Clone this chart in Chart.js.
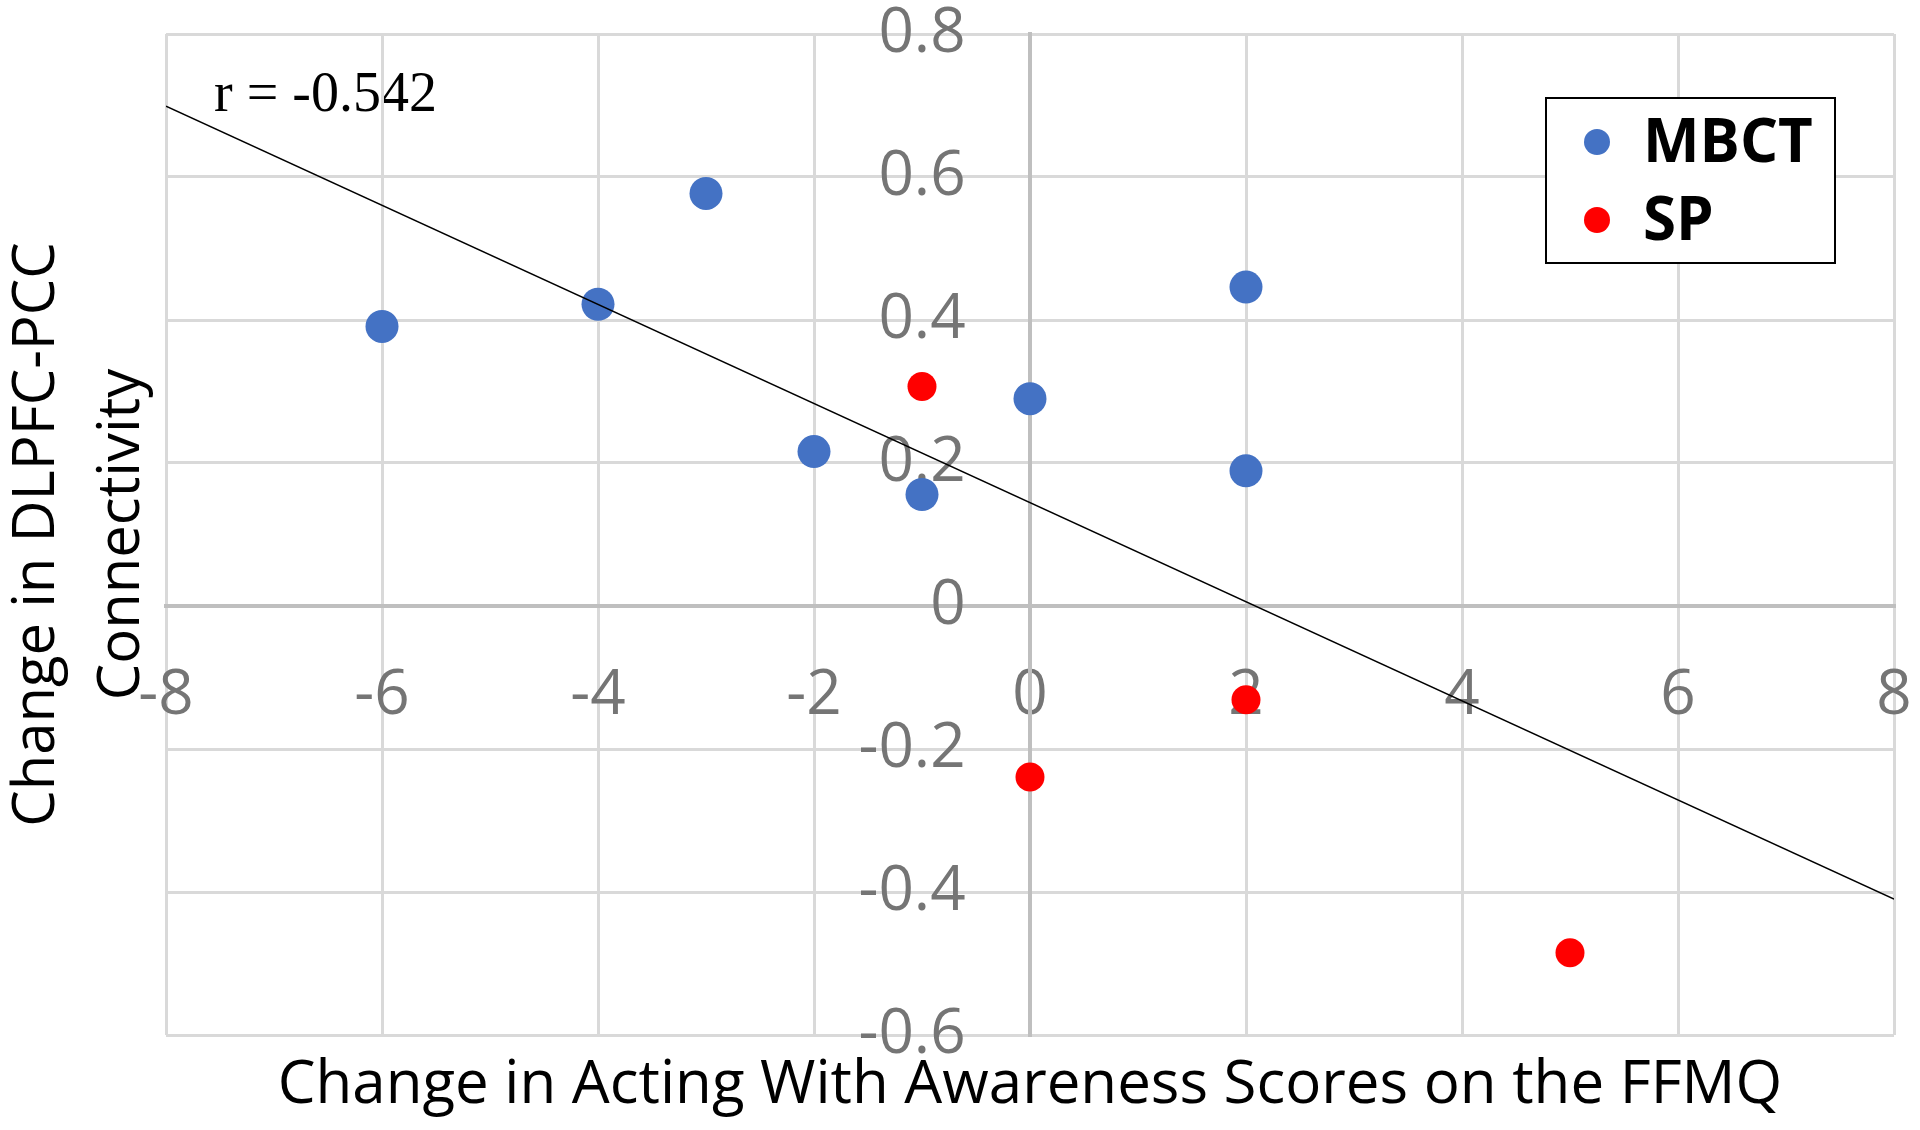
<!DOCTYPE html>
<html><head><meta charset="utf-8">
<script src="https://cdn.jsdelivr.net/npm/chart.js@4/dist/chart.umd.min.js"></script>
<style>html,body{margin:0;padding:0;background:#fff;}#wrap{width:1920px;height:1130px;}</style>
</head><body><div id="wrap"><canvas id="c" width="1920" height="1130"></canvas></div>
<script>
const mbctX = [-6, -4, -3, -2, -1, 0, 2, 2];
const mbctY = [0.391, 0.422, 0.577, 0.216, 0.156, 0.290, 0.446, 0.189];
const spX = [-1, 2, 0, 5];
const spY = [0.307, -0.131, -0.239, -0.485];
const trendX = [-8, 8];
const trendY = [0.699, -0.410];
const seriesNames = ['MBCT', 'SP'];
const xTicks = [-8, -6, -4, -2, 0, 2, 4, 6, 8];
const yTicks = [-0.6, -0.4, -0.2, 0, 0.2, 0.4, 0.6, 0.8];
const xTitle = 'Change in Acting With Awareness Scores on the FFMQ';
const yTitle = ['Change in DLPFC-PCC', 'Connectivity'];
const rLabel = 'r = -0.542';

const toPts = (xs, ys) => xs.map((x, i) => ({x: x, y: ys[i]}));
const fmt = v => { const r = Math.round(v * 10) / 10; return r === 0 ? '0' : String(r); };

const annot = {
  id: 'annot',
  beforeDraw(chart) {
    const ctx = chart.ctx;
    ctx.save();
    ctx.fillStyle = '#000';
    ctx.font = '56px "Liberation Serif"';
    ctx.textAlign = 'left';
    ctx.textBaseline = 'alphabetic';
    ctx.fillText(rLabel, 214, 111);
    ctx.restore();
  },
  afterDraw(chart) {
    const ctx = chart.ctx, a = chart.chartArea;
    ctx.save();
    ctx.fillStyle = '#000';
    // x title
    ctx.font = '60px "Open Sans"';
    ctx.textAlign = 'center';
    ctx.textBaseline = 'middle';
    ctx.fillText(xTitle, (a.left + a.right) / 2, 1086);
    // y title
    ctx.save();
    ctx.translate(0, (a.top + a.bottom) / 2);
    ctx.rotate(-Math.PI / 2);
    ctx.font = '58px "Open Sans"';
    ctx.fillText(yTitle[0], 0, 37);
    ctx.fillText(yTitle[1], 0, 122);
    ctx.restore();
    // legend
    ctx.fillStyle = '#fff';
    ctx.fillRect(1546, 98, 289, 165);
    ctx.strokeStyle = '#000';
    ctx.lineWidth = 2;
    ctx.strokeRect(1546, 98, 289, 165);
    const ds = chart.data.datasets.filter(d => seriesNames.includes(d.label));
    const rows = [142, 220];
    ds.forEach((d, i) => {
      ctx.fillStyle = d.backgroundColor;
      ctx.beginPath();
      ctx.arc(1597, rows[i], 13, 0, Math.PI * 2);
      ctx.fill();
      ctx.fillStyle = '#000';
      ctx.font = 'bold 60px "Open Sans"';
      ctx.textAlign = 'left';
      ctx.textBaseline = 'middle';
      ctx.fillText(d.label, 1643, rows[i] + 3);
    });
    ctx.restore();
  }
};

new Chart(document.getElementById('c'), {
  type: 'scatter',
  data: {
    datasets: [
      {type: 'line', label: 'trend', data: toPts(trendX, trendY), borderColor: '#000', borderWidth: 1.5,
       pointRadius: 0, fill: false, order: 0},
      {label: seriesNames[0], data: toPts(mbctX, mbctY), backgroundColor: '#4472C4', borderColor: '#4472C4',
       pointRadius: 16.5, borderWidth: 0, order: 1},
      {label: seriesNames[1], data: toPts(spX, spY), backgroundColor: '#FF0000', borderColor: '#FF0000',
       pointRadius: 14.5, borderWidth: 0, order: 2}
    ]
  },
  options: {
    responsive: false, animation: false, devicePixelRatio: 1,
    layout: {padding: {left: 166, right: 26, top: 34, bottom: 95}},
    plugins: {legend: {display: false}, tooltip: {enabled: false}},
    scales: {
      x: {
        type: 'linear', position: {y: 0}, min: -8, max: 8,
        afterBuildTicks: s => { s.ticks = xTicks.map(v => ({value: v})); },
        grid: {color: '#d9d9d9', lineWidth: 3, drawTicks: true, tickLength: 59, tickColor: 'rgba(0,0,0,0)'},
        border: {color: '#bfbfbf', width: 4},
        ticks: {color: '#757575', font: {family: 'Open Sans', size: 62, lineHeight: 1.0}, padding: 0,
                autoSkip: false, maxRotation: 0, callback: v => fmt(v)}
      },
      y: {
        type: 'linear', position: {x: 0}, min: -0.6, max: 0.8,
        afterBuildTicks: s => { s.ticks = yTicks.map(v => ({value: v})); },
        grid: {color: '#d9d9d9', lineWidth: 3, drawTicks: false},
        border: {color: '#bfbfbf', width: 4},
        ticks: {color: '#757575', font: {family: 'Open Sans', size: 62, lineHeight: 1.0}, padding: 0,
                autoSkip: false, callback: v => fmt(v) + '    '}
      }
    }
  },
  plugins: [annot]
});
</script></body></html>
